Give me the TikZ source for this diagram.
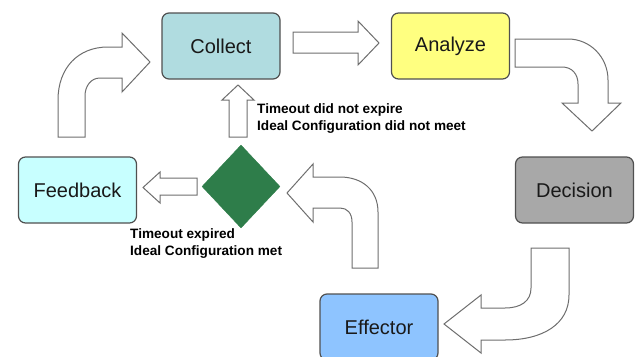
\documentclass[tikz,border=0pt]{standalone}
\usepackage{fontspec}
\setmainfont{Liberation Sans}
\usetikzlibrary{shapes.geometric}
\definecolor{edgegray}{RGB}{80,80,80}
\definecolor{arrowgray}{RGB}{110,110,110}
\definecolor{collectfill}{RGB}{176,220,224}
\definecolor{analyzefill}{RGB}{255,255,128}
\definecolor{decisionfill}{RGB}{168,168,168}
\definecolor{effectorfill}{RGB}{142,196,255}
\definecolor{feedbackfill}{RGB}{200,255,255}
\definecolor{gatefill}{RGB}{46,125,74}
\tikzset{
  stagebox/.style={draw=edgegray, line width=1.2pt, rounded corners=7pt,
    minimum width=118pt, minimum height=66pt, inner sep=0pt,
    text=black!90, font=\fontsize{20}{24}\selectfont},
  gate/.style={diamond, fill=gatefill, draw=gatefill, inner sep=0pt,
    minimum width=78pt, minimum height=83pt, aspect=0.94},
  blockarrow/.style={draw=arrowgray, fill=white, line width=1pt, line join=miter},
  note/.style={font=\bfseries\fontsize{13.6}{17.5}\selectfont, align=left,
    inner sep=0pt, anchor=north west, text=black}
}
\begin{document}
\begin{tikzpicture}[x=1pt, y=-1pt]
  \useasboundingbox (0,0) rectangle (636,356);

  % stages of the loop
  \node[stagebox, fill=collectfill]  (collect)  at (221,46)   {Collect};
  \node[stagebox, fill=analyzefill]  (analyze)  at (450.5,46) {Analyze};
  \node[stagebox, fill=decisionfill] (decision) at (574.5,190){Decision};
  \node[stagebox, fill=effectorfill] (effector) at (379,327)  {Effector};
  \node[stagebox, fill=feedbackfill] (feedback) at (77.5,190) {Feedback};
  \node[gate] (check) at (241,186.5) {};

  % Collect -> Analyze
  \draw[blockarrow] (293,32) -- (358,32) -- (358,21) -- (379,43)
    -- (358,65) -- (358,53) -- (293,53) -- cycle;

  % Analyze -> Decision
  \draw[blockarrow] (515,39) -- (568,39) .. controls (590,39) and (608,57) .. (608,80)
    -- (608,103) -- (621,103) -- (592,131) -- (562,103) -- (578,103)
    -- (578,84) .. controls (578,74) and (572,67) .. (562,67) -- (515,67) -- cycle;

  % Decision -> Effector
  \draw[blockarrow] (531,248) -- (569,248) -- (569,295)
    .. controls (569,324) and (543,340) .. (505,340) -- (481,340) -- (481,353)
    -- (444,324) -- (481,295) -- (481,308) -- (505,308)
    .. controls (521,308) and (531,301) .. (531,288) -- cycle;

  % Effector -> check
  \draw[blockarrow] (352,268) -- (378,268) -- (378,212)
    .. controls (378,190) and (362,177) .. (340,177) -- (313,177) -- (313,164)
    -- (287,193) -- (313,222) -- (313,208) -- (340,208)
    .. controls (347,208) and (352,213) .. (352,222) -- cycle;

  % check -> Feedback
  \draw[blockarrow] (197,178) -- (160,178) -- (160,172) -- (143,187.5)
    -- (160,203) -- (160,195) -- (197,195) -- cycle;

  % check -> Collect
  \draw[blockarrow] (229,137) -- (229,100) -- (222,100) -- (238,85)
    -- (254,100) -- (247,100) -- (247,137) -- cycle;

  % Feedback -> Collect
  \draw[blockarrow] (58,137) -- (58,100) .. controls (58,68) and (78,47) .. (108,47)
    -- (122,47) -- (122,33) -- (150,62) -- (122,92) -- (122,78) -- (100,78)
    .. controls (91,78) and (85,86) .. (85,96) -- (85,137) -- cycle;

  % outcome labels
  \node[note] (retry) at (257,103) {Timeout did not expire\\Ideal Configuration did not meet};
  \node[note] (done)  at (130,228) {Timeout expired\\Ideal Configuration met};
\end{tikzpicture}
\end{document}
